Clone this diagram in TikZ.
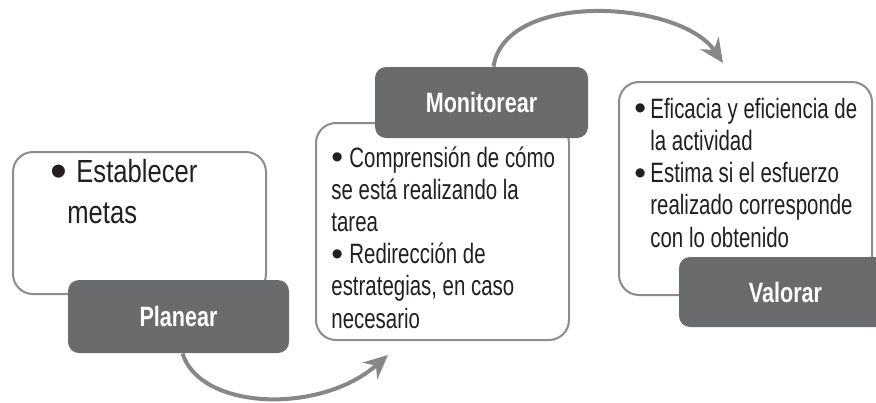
\documentclass[tikz,border=0pt]{standalone}
\usepackage{fontspec}
\usepackage{graphicx}
\setmainfont[FakeStretch=0.73]{Liberation Sans}
\newfontfamily\leadfont[FakeStretch=0.8]{Liberation Sans}
\newfontfamily\tagfont[FakeStretch=0.77]{Liberation Sans}
\newfontfamily\dotfont{Liberation Sans}
\usepackage{tikz}
\usetikzlibrary{positioning}
\usetikzlibrary{arrows.meta}
\definecolor{tagfill}{RGB}{106,107,109}
\definecolor{edgegray}{RGB}{140,140,140}
\definecolor{cyclegray}{RGB}{135,135,135}
\definecolor{inkgray}{RGB}{35,31,32}
\newcommand{\dotmark}[1]{\makebox[#1][l]{\dotfont\raisebox{-0.06em}{\scalebox{1.2}{\textbullet}}}}
\newcommand{\bulletgap}{\hspace*{8pt}}
\tikzstyle{textbox} = [draw=edgegray,line width=1pt,rounded corners=10pt,fill=white,inner sep=0pt]
\tikzstyle{tagbox} = [fill=tagfill,rounded corners=5.5pt,text=white,inner sep=0pt,font=\tagfont\bfseries\fontsize{14}{17}\selectfont]
\tikzstyle{bullets} = [anchor=base west,align=left,inner sep=0pt,text=inkgray,font=\fontsize{14}{16.1}\selectfont]
\tikzstyle{cycle} = [draw=cyclegray,line width=2pt,-{Stealth[length=12pt,width=11pt,inset=4pt]}]

\begin{document}
\begin{tikzpicture}[x=0.5pt,y=-0.5pt]
	\useasboundingbox (0,0) rectangle (876,402);
	% planear
	\node[textbox,minimum width=126.5pt,minimum height=71pt] (plan box) at (139.5,223) {};
	\node[tagbox,minimum width=110.5pt,minimum height=36.5pt] (plan) at (178.5,316.5) {Planear};
	\node[bullets,font=\leadfont\fontsize{16}{20.5}\selectfont] (plan text) at (50,223) {\makebox[13pt][l]{\dotfont\raisebox{-0.17em}{\scalebox{1.5}{\textbullet}}}Establecer\\\hspace*{8.5pt}metas};
	% monitorear
	\node[textbox,minimum width=126.5pt,minimum height=108.5pt] (moni box) at (442.5,231.5) {};
	\node[tagbox,minimum width=106.5pt,minimum height=35.5pt] (moni) at (481.5,102.5) {Monitorear};
	\node[bullets] (moni text) at (331,328) {\dotmark{9pt}Comprensión de cómo\\se está realizando la\\tarea\\\dotmark{9pt}Redirección de\\estrategias, en caso\\necesario};
	% valorar
	\node[textbox,minimum width=126.5pt,minimum height=106.5pt] (valo box) at (745.5,188.5) {};
	\node[tagbox,minimum width=106.5pt,minimum height=35pt] (valo) at (785.5,292) {Valorar};
	\node[bullets] (valo text) at (634,247) {\dotmark{8pt}Eficacia y eficiencia de\\\bulletgap la actividad\\\dotmark{8pt}Estima si el esfuerzo\\\bulletgap realizado corresponde\\\bulletgap con lo obtenido};
	% arrows
	\coordinate (to moni) at (388,355);
	\coordinate (to valo) at (723,63);
	\draw[cycle] ([xshift=2pt]plan.south) .. controls (200,410) and (320,415) .. (to moni);
	\draw[cycle] ([xshift=6pt]moni.north) .. controls (505,-10) and (680,0) .. (to valo);
\end{tikzpicture}
\end{document}
